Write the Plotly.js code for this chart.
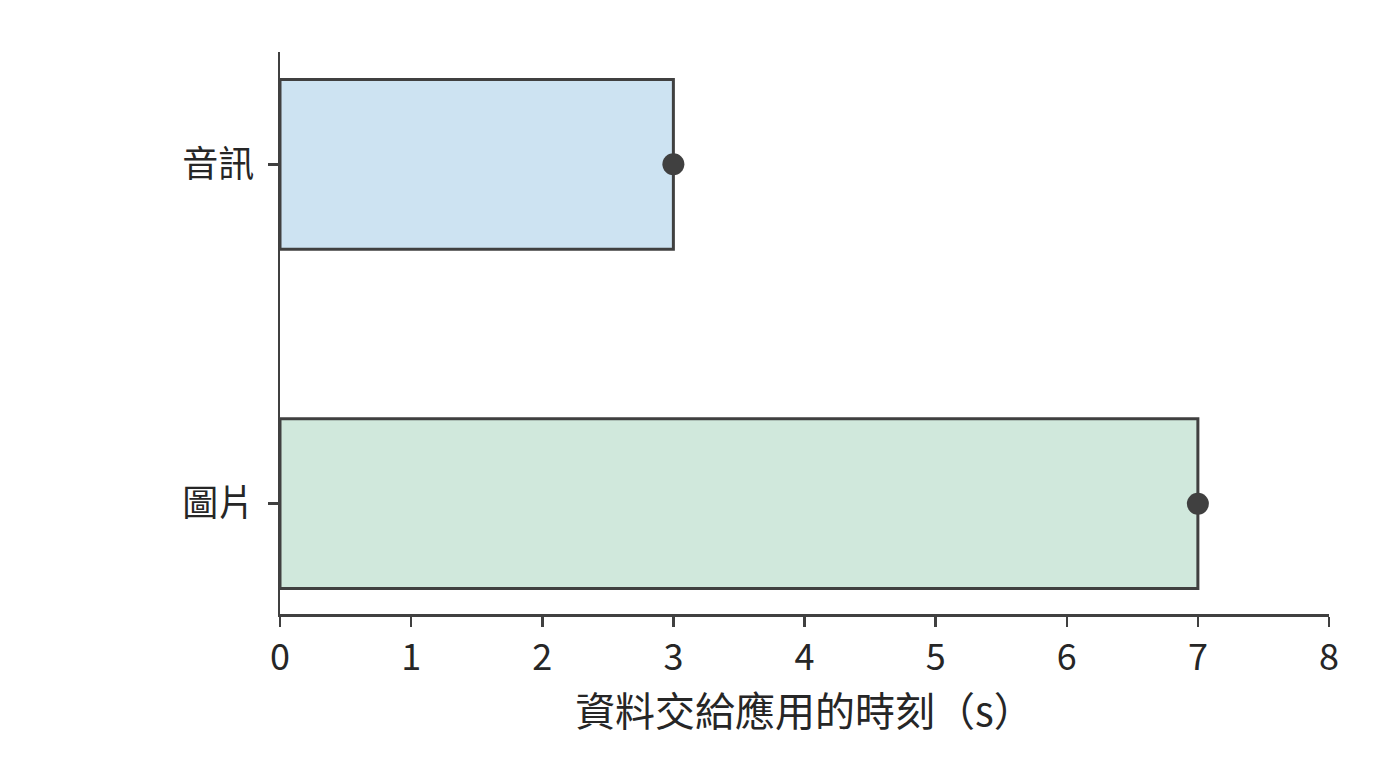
<!DOCTYPE html>
<html>
<head>
<meta charset="utf-8">
<script src="https://cdn.plot.ly/plotly-3.0.1.min.js"></script>
<style>
  html, body { margin: 0; padding: 0; background: #fff; }
  #chart { width: 1400px; height: 768px; }
</style>
</head>
<body>
<div id="chart"></div>
<script>
// data
let categories = ["圖片", "音訊"];
let deliverTimes = [7, 3];
let barColors = ["#d0e8dc", "#cde3f2"];
let xTicks = [0, 1, 2, 3, 4, 5, 6, 7, 8];

let edge = "#404040";
let textColor = "#262626";
let font = "Noto Sans CJK TC, Noto Sans, sans-serif";

let bars = {
    type: "bar",
    orientation: "h",
    y: categories,
    x: deliverTimes,
    width: 0.5,
    marker: {
        color: barColors,
        line: { color: edge, width: 3 }
    },
    hoverinfo: "skip"
};

let dots = {
    type: "scatter",
    mode: "markers",
    y: categories,
    x: deliverTimes,
    marker: { color: edge, size: 22 },
    cliponaxis: false,
    hoverinfo: "skip"
};

let layout = {
    width: 1400,
    height: 768,
    margin: { l: 280, r: 71, t: 52, b: 154 },
    paper_bgcolor: "#fff",
    plot_bgcolor: "#fff",
    showlegend: false,
    font: { family: font, color: textColor, size: 36 },
    xaxis: {
        range: [0, 8],
        tickvals: xTicks,
        showgrid: false,
        zeroline: false,
        showline: true,
        linecolor: edge,
        linewidth: 2.5,
        ticks: "outside",
        ticklen: 10,
        tickwidth: 2.5,
        tickcolor: edge,
        tickfont: { size: 36, color: textColor },
        title: { text: "資料交給應用的時刻（s）", font: { size: 40, color: textColor }, standoff: 6 }
    },
    yaxis: {
        type: "category",
        range: [-0.325, 1.331],
        showgrid: false,
        zeroline: false,
        showline: true,
        linecolor: edge,
        linewidth: 2.5,
        ticks: "outside",
        ticklen: 10,
        tickwidth: 2.5,
        tickcolor: edge,
        ticklabelstandoff: 6,
        tickfont: { size: 36, color: textColor }
    }
};

Plotly.newPlot("chart", [bars, dots], layout, { displayModeBar: false, staticPlot: true });
</script>
</body>
</html>
